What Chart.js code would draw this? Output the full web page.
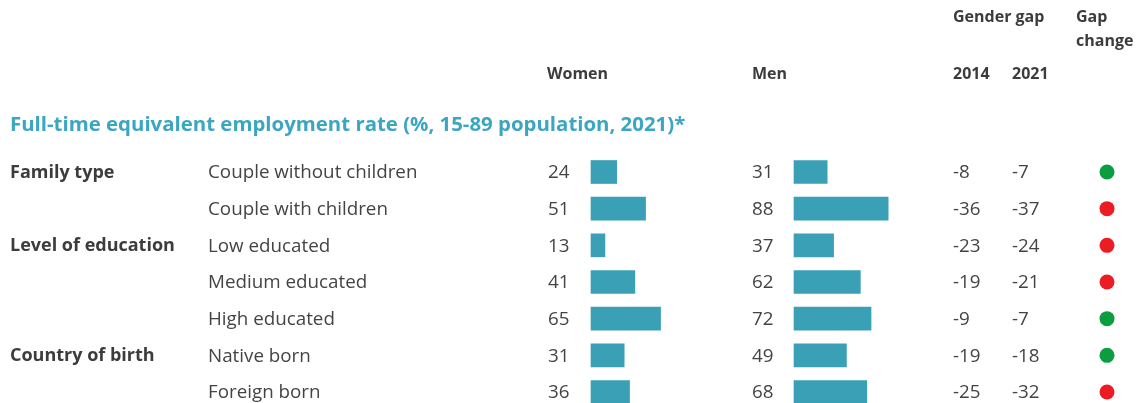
<!DOCTYPE html>
<html>
<head>
<meta charset="utf-8">
<script src="https://cdn.jsdelivr.net/npm/chart.js@4/dist/chart.umd.min.js"></script>
<style>
  html, body { margin: 0; padding: 0; background: #fff; }
  #wrap { width: 1140px; height: 403px; }
</style>
</head>
<body>
<div id="wrap"><canvas id="gapChart" width="1140" height="403"></canvas></div>
<script>
// data
const categories = ['Couple without children', 'Couple with children', 'Low educated', 'Medium educated', 'High educated', 'Native born', 'Foreign born'];
const groups = ['Family type', '', 'Level of education', '', '', 'Country of birth', ''];
const women = [24, 51, 13, 41, 65, 31, 36];
const men = [31, 88, 37, 62, 72, 49, 68];
const gap2014 = [-8, -36, -23, -19, -9, -19, -25];
const gap2021 = [-7, -37, -24, -21, -7, -18, -32];

const title = 'Full-time equivalent employment rate (%, 15-89 population, 2021)*';

const W = 1140;
const PX = 1.07; // pixels per percentage point
const BAR = '#3aa0b6';
const TXT = '#3c3c3c';
const FONT = '"Open Sans", "Noto Sans", sans-serif';

// gap narrowed -> green, widened -> red
const dotColors = gap2014.map((g, i) => Math.abs(gap2021[i]) < Math.abs(gap2014[i]) ? '#0a9e40' : '#ec1c24');
const zeros = categories.map(() => 0);

// put value 0 of an axis at a given x pixel
const axisAt = (x) => ({ type: 'linear', display: false, min: -x / PX, max: (W - x) / PX });

const tableText = {
  id: 'tableText',
  afterDraw(chart) {
    const ctx = chart.ctx;
    const y = chart.scales.y;
    ctx.save();
    ctx.textBaseline = 'middle';
    ctx.textAlign = 'left';

    // column headers
    ctx.fillStyle = TXT;
    ctx.font = 'bold 16px ' + FONT;
    ctx.fillText('Gender gap', 953, 17);
    ctx.fillText('Gap', 1076, 17);
    ctx.fillText('change', 1076, 41);
    ctx.fillText('Women', 547, 74);
    ctx.fillText('Men', 752, 74);
    ctx.fillText('2014', 953, 74);
    ctx.fillText('2021', 1012, 74);

    // section title
    ctx.fillStyle = '#3ba6c2';
    ctx.font = 'bold 20.4px ' + FONT;
    ctx.fillText(title, 10, 125);

    categories.forEach((c, i) => {
      const py = y.getPixelForValue(i) + 1;
      if (groups[i]) {
        ctx.fillStyle = TXT;
        ctx.font = 'bold 18px ' + FONT;
        ctx.fillText(groups[i], 10, py);
      }
      ctx.fillStyle = '#444';
      ctx.font = '18.8px ' + FONT;
      ctx.fillText(c, 208, py);
      ctx.fillText(String(women[i]), 548, py);
      ctx.fillText(String(men[i]), 752, py);
      ctx.fillText(String(gap2014[i]), 953, py);
      ctx.fillText(String(gap2021[i]), 1012, py);
    });
    ctx.restore();
  }
};

new Chart(document.getElementById('gapChart'), {
  type: 'bar',
  data: {
    labels: categories,
    datasets: [
      { label: 'Women', data: women, xAxisID: 'xW', yAxisID: 'y', backgroundColor: BAR, barThickness: 23, grouped: false, clip: false },
      { label: 'Men', data: men, xAxisID: 'xM', yAxisID: 'y', backgroundColor: BAR, barThickness: 23, grouped: false, clip: false },
      {
        type: 'line', label: 'Gap change', data: zeros, indexAxis: 'y', xAxisID: 'xC', yAxisID: 'y',
        showLine: false, pointRadius: 7.5, pointBorderWidth: 0,
        pointBackgroundColor: dotColors, pointBorderColor: dotColors, clip: false
      }
    ]
  },
  options: {
    indexAxis: 'y',
    responsive: false,
    devicePixelRatio: 1,
    animation: false,
    events: [],
    layout: { autoPadding: false, padding: { top: 172, bottom: 11, left: 0, right: 0 } },
    plugins: { legend: { display: false }, tooltip: { enabled: false } },
    scales: {
      y: { type: 'category', offset: false, display: false },
      xW: axisAt(591),
      xM: axisAt(794),
      xC: axisAt(1107)
    }
  },
  plugins: [tableText]
});
</script>
</body>
</html>
